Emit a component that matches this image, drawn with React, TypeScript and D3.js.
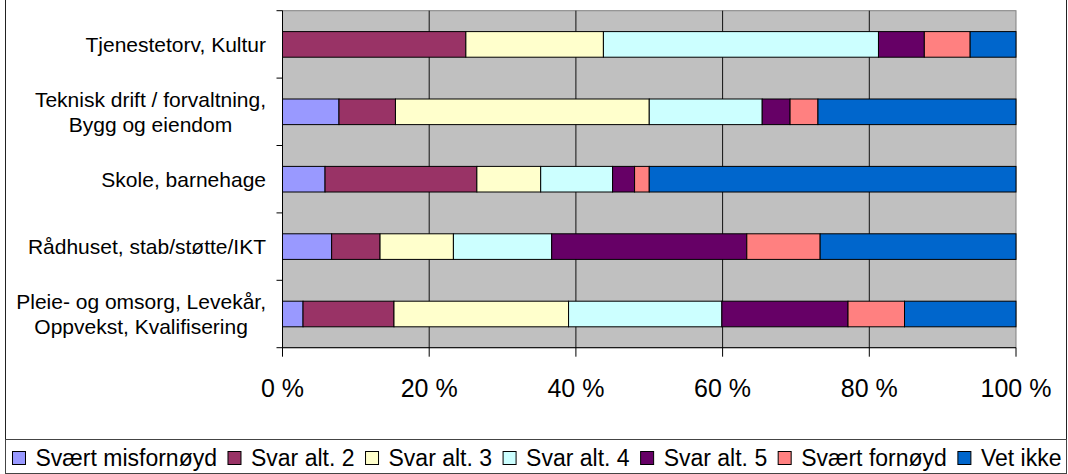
import React, { useEffect, useRef } from "react";
import * as d3 from "d3";

const categories = [
  "Tjenestetorv, Kultur",
  "Teknisk drift / forvaltning,\nBygg og eiendom",
  "Skole, barnehage",
  "Rådhuset, stab/støtte/IKT",
  "Pleie- og omsorg, Levekår,\nOppvekst, Kvalifisering",
];

const seriesNames = [
  "Svært misfornøyd",
  "Svar alt. 2",
  "Svar alt. 3",
  "Svar alt. 4",
  "Svar alt. 5",
  "Svært fornøyd",
  "Vet ikke",
];

// percent per category, top to bottom
const svaertMisfornoyd = [0, 7.7, 5.8, 6.7, 2.8];
const svarAlt2 = [25, 7.7, 20.7, 6.6, 12.4];
const svarAlt3 = [18.75, 34.6, 8.7, 10, 23.8];
const svarAlt4 = [37.5, 15.4, 9.8, 13.4, 20.9];
const svarAlt5 = [6.25, 3.8, 3.0, 26.6, 17.2];
const svaertFornoyd = [6.25, 3.8, 2.0, 10, 7.7];
const vetIkke = [6.25, 27.0, 50.0, 26.7, 15.2];

const xTicks = [0, 20, 40, 60, 80, 100];

const colors = ["#9999FF", "#993366", "#FFFFCC", "#CCFFFF", "#660066", "#FF8080", "#0066CC"];

const W = 1068;
const H = 474;

function App() {
  const ref = useRef<SVGSVGElement>(null);

  useEffect(() => {
    const svg = d3.select(ref.current);
    svg.selectAll("*").remove();

    const allSeries = [svaertMisfornoyd, svarAlt2, svarAlt3, svarAlt4, svarAlt5, svaertFornoyd, vetIkke];
    const rows = categories.map((c, i) => {
      const row: any = { name: c };
      seriesNames.forEach((s, j) => (row[s] = allSeries[j][i]));
      return row;
    });

    const stack = d3.stack().keys(seriesNames);
    const stacked = stack(rows);

    const left = 282.5, right = 1016, top = 10.7, bottom = 347.7;

    const x = d3.scaleLinear().domain([0, 100]).range([left, right]);
    const y = d3.scaleBand()
      .domain(categories)
      .range([top, bottom])
      .paddingInner(0.62)
      .paddingOuter(0.31);

    const font = '"Liberation Sans", Arial, sans-serif';

    // outer border
    svg.append("path")
      .attr("d", `M5.5,-1 V473.5 H1066.5 V-1`)
      .attr("fill", "none")
      .attr("stroke", "#222");

    // plot background
    svg.append("rect")
      .attr("x", left).attr("y", top)
      .attr("width", right - left).attr("height", bottom - top)
      .attr("fill", "#C0C0C0")
      .attr("stroke", "#808080");

    // gridlines
    svg.selectAll(".grid")
      .data(xTicks.slice(1, -1))
      .enter()
      .append("line")
      .attr("x1", d => x(d)).attr("x2", d => x(d))
      .attr("y1", top).attr("y2", bottom)
      .attr("stroke", "#111");

    // bars
    const layers = svg.selectAll(".layer")
      .data(stacked)
      .enter()
      .append("g")
      .attr("fill", (d, i) => colors[i]);

    layers.selectAll("rect")
      .data(d => d.filter(p => p[1] - p[0] > 0))
      .enter()
      .append("rect")
      .attr("x", d => x(d[0]))
      .attr("width", d => x(d[1]) - x(d[0]))
      .attr("y", (d: any) => y(d.data.name)!)
      .attr("height", y.bandwidth())
      .attr("stroke", "#000")
      .attr("stroke-width", 1);

    // axes
    svg.append("line")
      .attr("x1", left).attr("x2", left).attr("y1", top).attr("y2", bottom)
      .attr("stroke", "#000");
    svg.append("line")
      .attr("x1", left).attr("x2", right).attr("y1", bottom).attr("y2", bottom)
      .attr("stroke", "#000");

    // y ticks at band edges
    const yEdges = d3.range(categories.length + 1).map(i => top + i * y.step());
    svg.selectAll(".ytick")
      .data(yEdges)
      .enter()
      .append("line")
      .attr("x1", left - 6).attr("x2", left)
      .attr("y1", d => d).attr("y2", d => d)
      .attr("stroke", "#000");

    // x ticks
    svg.selectAll(".xtick")
      .data(xTicks)
      .enter()
      .append("line")
      .attr("x1", d => x(d)).attr("x2", d => x(d))
      .attr("y1", bottom).attr("y2", bottom + 9)
      .attr("stroke", "#000");

    svg.selectAll(".xlabel")
      .data(xTicks)
      .enter()
      .append("text")
      .attr("x", d => x(d))
      .attr("y", 397)
      .attr("text-anchor", "middle")
      .style("font-family", font)
      .style("font-size", "25px")
      .text(d => d + " %");

    // category labels, multi-line ones centred on their widest line
    categories.forEach(c => {
      const lines = c.split("\n");
      const cy = y(c)! + y.bandwidth() / 2;
      const lh = 24.5;
      const texts = lines.map((ln, k) =>
        svg.append("text")
          .attr("y", cy + 7.6 + (k - (lines.length - 1) / 2) * lh)
          .style("font-family", font)
          .style("font-size", "21px")
          .text(ln)
      );
      const widths = texts.map(t => (t.node() as SVGTextElement).getComputedTextLength());
      const maxW = d3.max(widths)!;
      const cx = 266 - maxW / 2;
      texts.forEach(t => t.attr("x", cx).attr("text-anchor", "middle"));
    });

    // legend
    svg.append("rect")
      .attr("x", 5.5).attr("y", 439.5)
      .attr("width", 1061).attr("height", 34)
      .attr("fill", "#fff")
      .attr("stroke", "#444");

    const legend = svg.append("g");
    let lx = 12.5;
    seriesNames.forEach((s, i) => {
      legend.append("rect")
        .attr("x", lx).attr("y", 451.5)
        .attr("width", 13).attr("height", 13)
        .attr("fill", colors[i])
        .attr("stroke", "#000");
      const t = legend.append("text")
        .attr("x", lx + 23)
        .attr("y", 466)
        .style("font-family", font)
        .style("font-size", "23px")
        .text(s);
      const w = (t.node() as SVGTextElement).getComputedTextLength();
      lx = lx + 23 + w + 11;
    });
  }, []);

  return (
    <svg
      ref={ref}
      width={W}
      height={H}
      style={{ position: "absolute", left: 0, top: 0, background: "#fff" }}
    />
  );
}

export default App;
